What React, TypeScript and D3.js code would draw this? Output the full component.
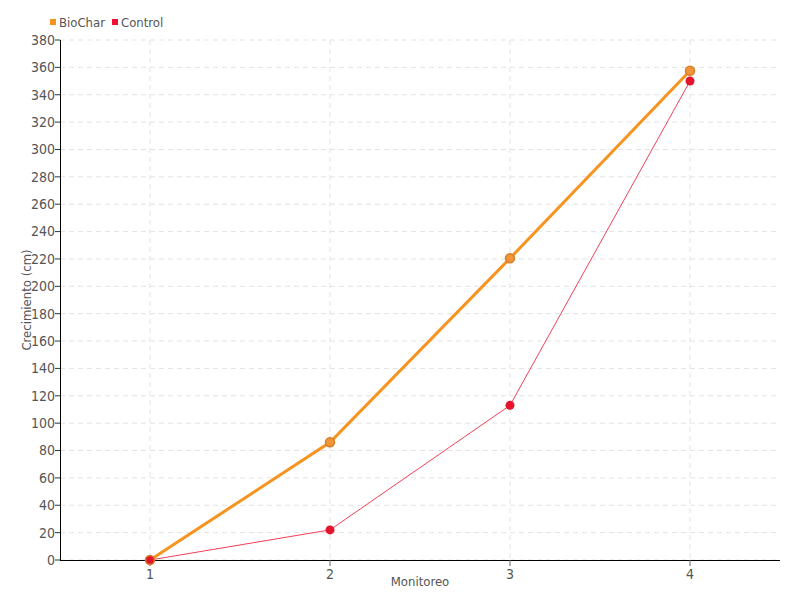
import React from "react";
import * as d3 from "d3";

const categories = ["1", "2", "3", "4"];
const biochar = [0, 86, 220.5, 357.5];
const control = [0, 22, 113, 350];
const yTicks = d3.range(0, 381, 20);

const W = 800, H = 600;
const M = { left: 60, right: 780, top: 40, bottom: 560 };
const FONT = "'DejaVu Sans Condensed', 'DejaVu Sans', sans-serif";
const FS = 13;

export default function App() {
  const x = d3.scaleBand().domain(categories).range([M.left, M.right]);
  const cx = (c: string) => (x(c) as number) + x.bandwidth() / 2;
  const y = d3.scaleLinear().domain([0, 380]).range([M.bottom, M.top]);
  const lineB = d3.line<number>().x((_, i) => cx(categories[i])).y(d => y(d));
  const lineC = d3.line<number>().x((_, i) => cx(categories[i])).y(d => y(d));
  return (
    <svg width={W} height={H} style={{ position: "absolute", left: 0, top: 0, fontFamily: FONT }}>
      <rect width={W} height={H} fill="#fff" />
      {yTicks.map(t => (
        <line key={"gy" + t} x1={M.left} x2={M.right} y1={y(t)} y2={y(t)} stroke="#e3e3e3" strokeDasharray="5,4" />
      ))}
      {categories.map(c => (
        <line key={"gx" + c} x1={cx(c)} x2={cx(c)} y1={M.top} y2={M.bottom} stroke="#e3e3e3" strokeDasharray="5,4" />
      ))}
      <line x1={M.left} x2={M.right} y1={M.bottom + 0.5} y2={M.bottom + 0.5} stroke="#000" />
      <line x1={M.left + 0.5} x2={M.left + 0.5} y1={M.top} y2={M.bottom} stroke="#000" />
      {yTicks.map(t => (
        <g key={"ty" + t}>
          <line x1={M.left - 5} x2={M.left} y1={y(t)} y2={y(t)} stroke="#333" />
          <text x={M.left - 5} y={y(t)} dy="0.35em" textAnchor="end" fontSize={FS + 1} fill="#555">{t}</text>
        </g>
      ))}
      {categories.map(c => (
        <g key={"tx" + c}>
          <line x1={cx(c)} x2={cx(c)} y1={M.bottom} y2={M.bottom + 6} stroke="#666" />
          <text x={cx(c)} y={M.bottom + 19} textAnchor="middle" fontSize={FS + 1} fill="#555">{c}</text>
        </g>
      ))}
      <text x={420} y={586} textAnchor="middle" fontSize={FS} fill="#555">Monitoreo</text>
      <text transform={`translate(31,300) rotate(-90)`} textAnchor="middle" fontSize={FS} fill="#555">Crecimiento (cm)</text>
      <path d={lineC(control) || ""} fill="none" stroke="#f2405a" strokeWidth={1} />
      <path d={lineB(biochar) || ""} fill="none" stroke="#f7931e" strokeWidth={3} />
      {control.map((v, i) => (
        <circle key={"pc" + i} cx={cx(categories[i])} cy={y(v)} r={4.5} fill="#e3142c" />
      ))}
      {biochar.map((v, i) => (
        <circle key={"pb" + i} cx={cx(categories[i])} cy={y(v)} r={4.5} fill={i === 0 ? "#e3142c" : "#f39436"} stroke="#d4802c" strokeWidth={1.5} />
      ))}
      <rect x={50} y={19} width={6} height={6} fill="#f7931e" />
      <text x={59} y={22} dy="0.35em" fontSize={FS} fill="#555">BioChar</text>
      <rect x={112} y={19} width={6} height={6} fill="#ee1133" />
      <text x={121} y={22} dy="0.35em" fontSize={FS} fill="#555">Control</text>
    </svg>
  );
}
